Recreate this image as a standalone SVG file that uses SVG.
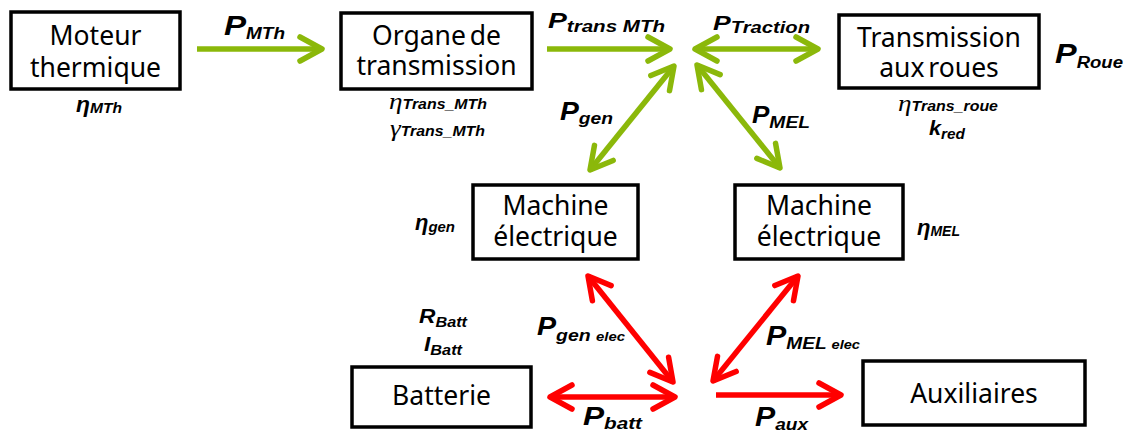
<svg xmlns="http://www.w3.org/2000/svg" width="1130" height="432" viewBox="0 0 1130 432">
<style>
.box{fill:#fff;stroke:#000;stroke-width:3.5}
.bt{font-family:"Noto Sans","Open Sans",sans-serif;font-size:26.5px;text-anchor:middle;fill:#000;word-spacing:-3px}
.lb{font-family:"Liberation Sans",Arial,sans-serif;font-weight:bold;font-style:italic;fill:#000}
.tm{font-family:"Liberation Serif","Times New Roman",serif;font-style:italic;font-weight:normal}
.g{fill:none;stroke:#8BB80A;stroke-width:5.5}
.r{fill:none;stroke:#FF0000;stroke-width:5.5}
</style>
<defs>
<marker id="hg" viewBox="-30 -16 34 32" refX="0" refY="0" markerWidth="34" markerHeight="32" markerUnits="userSpaceOnUse" orient="auto-start-reverse" overflow="visible">
<path d="M-22,-12 L0,0 L-22,12" fill="none" stroke="#8BB80A" stroke-width="5.5" stroke-linecap="round" stroke-linejoin="round"/>
</marker>
<marker id="hr" viewBox="-30 -16 34 32" refX="0" refY="0" markerWidth="34" markerHeight="32" markerUnits="userSpaceOnUse" orient="auto-start-reverse" overflow="visible">
<path d="M-22,-12 L0,0 L-22,12" fill="none" stroke="#FF0000" stroke-width="5.5" stroke-linecap="round" stroke-linejoin="round"/>
</marker>
</defs>
<rect width="1130" height="432" fill="#fff"/>

<g id="connectors">
<path class="g" d="M197,49 L322,49" marker-end="url(#hg)"/>
<path class="g" d="M547,49 L670,49" marker-end="url(#hg)"/>
<path class="g" d="M695,49 L818,49" marker-start="url(#hg)" marker-end="url(#hg)"/>
<path class="g" d="M674,66 L590,170" marker-start="url(#hg)" marker-end="url(#hg)"/>
<path class="g" d="M697,65 L780,168" marker-start="url(#hg)" marker-end="url(#hg)"/>
<path class="r" d="M588,276 L673,382" marker-start="url(#hr)" marker-end="url(#hr)"/>
<path class="r" d="M798,276 L713,381" marker-start="url(#hr)" marker-end="url(#hr)"/>
<path class="r" d="M550,397 L675,397" marker-start="url(#hr)" marker-end="url(#hr)"/>
<path class="r" d="M716,395 L841,395" marker-end="url(#hr)"/>
</g>

<g id="moteur">
<rect class="box" x="11" y="12" width="169" height="77"/>
<text class="bt"><tspan x="95.5" y="45">Moteur</tspan><tspan x="95.5" y="77">thermique</tspan></text>
<text class="lb" x="76" y="112" textLength="46" lengthAdjust="spacingAndGlyphs"><tspan font-size="22">η</tspan><tspan font-size="15" y="113">MTh</tspan></text>
</g>

<g id="organe">
<rect class="box" x="341" y="13" width="191" height="76"/>
<text class="bt"><tspan x="436.5" y="45">Organe de</tspan><tspan x="436.5" y="75">transmission</tspan></text>
<text class="lb" x="389" y="109" textLength="98" lengthAdjust="spacingAndGlyphs"><tspan class="tm" font-size="24">η</tspan><tspan font-size="14">Trans_MTh</tspan></text>
<text class="lb" x="390" y="136" textLength="95" lengthAdjust="spacingAndGlyphs"><tspan class="tm" font-size="24">γ</tspan><tspan font-size="14">Trans_MTh</tspan></text>
</g>

<g id="transroues">
<rect class="box" x="839" y="15" width="200" height="73"/>
<text class="bt"><tspan x="939" y="47">Transmission</tspan><tspan x="939" y="77">aux roues</tspan></text>
<text class="lb" x="898" y="111" textLength="100" lengthAdjust="spacingAndGlyphs"><tspan class="tm" font-size="24">η</tspan><tspan font-size="14">Trans_roue</tspan></text>
<text class="lb" x="929" y="135" textLength="36" lengthAdjust="spacingAndGlyphs"><tspan font-size="21">k</tspan><tspan font-size="15" y="139">red</tspan></text>
</g>

<g id="proue">
<text class="lb" x="1055" y="63" textLength="68" lengthAdjust="spacingAndGlyphs"><tspan font-size="28">P</tspan><tspan font-size="16" y="68">Roue</tspan></text>
</g>

<g id="machine-gen">
<rect class="box" x="473" y="185" width="165" height="74"/>
<text class="bt"><tspan x="555.5" y="215">Machine</tspan><tspan x="555.5" y="246">électrique</tspan></text>
<text class="lb" x="415" y="230" textLength="40" lengthAdjust="spacingAndGlyphs"><tspan font-size="22">η</tspan><tspan font-size="15" y="232">gen</tspan></text>
</g>

<g id="machine-mel">
<rect class="box" x="735" y="185" width="168" height="74"/>
<text class="bt"><tspan x="819" y="215">Machine</tspan><tspan x="819" y="246">électrique</tspan></text>
<text class="lb" x="917" y="235" textLength="43" lengthAdjust="spacingAndGlyphs"><tspan font-size="22">η</tspan><tspan font-size="14" y="236">MEL</tspan></text>
</g>

<g id="batterie">
<rect class="box" x="352" y="367" width="179" height="60"/>
<text class="bt" x="441.5" y="405">Batterie</text>
<text class="lb" x="419" y="323" textLength="48" lengthAdjust="spacingAndGlyphs"><tspan font-size="21">R</tspan><tspan font-size="15" y="327">Batt</tspan></text>
<text class="lb" x="424" y="351" textLength="38" lengthAdjust="spacingAndGlyphs"><tspan font-size="21">I</tspan><tspan font-size="15" y="355">Batt</tspan></text>
</g>

<g id="auxiliaires">
<rect class="box" x="863" y="361" width="222" height="64"/>
<text class="bt" x="974" y="403">Auxiliaires</text>
</g>

<g id="labels">
<text class="lb" x="224" y="35" textLength="61" lengthAdjust="spacingAndGlyphs"><tspan font-size="28">P</tspan><tspan font-size="16" y="39">MTh</tspan></text>
<text class="lb" x="548" y="28" textLength="117" lengthAdjust="spacingAndGlyphs"><tspan font-size="22">P</tspan><tspan font-size="16" y="32">trans MTh</tspan></text>
<text class="lb" x="713" y="30" textLength="97" lengthAdjust="spacingAndGlyphs"><tspan font-size="21">P</tspan><tspan font-size="16" y="33">Traction</tspan></text>
<text class="lb" x="560" y="120" textLength="53" lengthAdjust="spacingAndGlyphs"><tspan font-size="25">P</tspan><tspan font-size="17" y="124">gen</tspan></text>
<text class="lb" x="752" y="123" textLength="58" lengthAdjust="spacingAndGlyphs"><tspan font-size="23">P</tspan><tspan font-size="17" y="128">MEL</tspan></text>
<text class="lb" x="537" y="335" textLength="88" lengthAdjust="spacingAndGlyphs"><tspan font-size="25">P</tspan><tspan font-size="17" y="341">gen </tspan><tspan font-size="13">elec</tspan></text>
<text class="lb" x="583" y="425" textLength="59" lengthAdjust="spacingAndGlyphs"><tspan font-size="26">P</tspan><tspan font-size="17" y="429">batt</tspan></text>
<text class="lb" x="766" y="345" textLength="94" lengthAdjust="spacingAndGlyphs"><tspan font-size="27">P</tspan><tspan font-size="17" y="349">MEL </tspan><tspan font-size="13">elec</tspan></text>
<text class="lb" x="755" y="426" textLength="53" lengthAdjust="spacingAndGlyphs"><tspan font-size="27">P</tspan><tspan font-size="17" y="430">aux</tspan></text>
</g>
</svg>
